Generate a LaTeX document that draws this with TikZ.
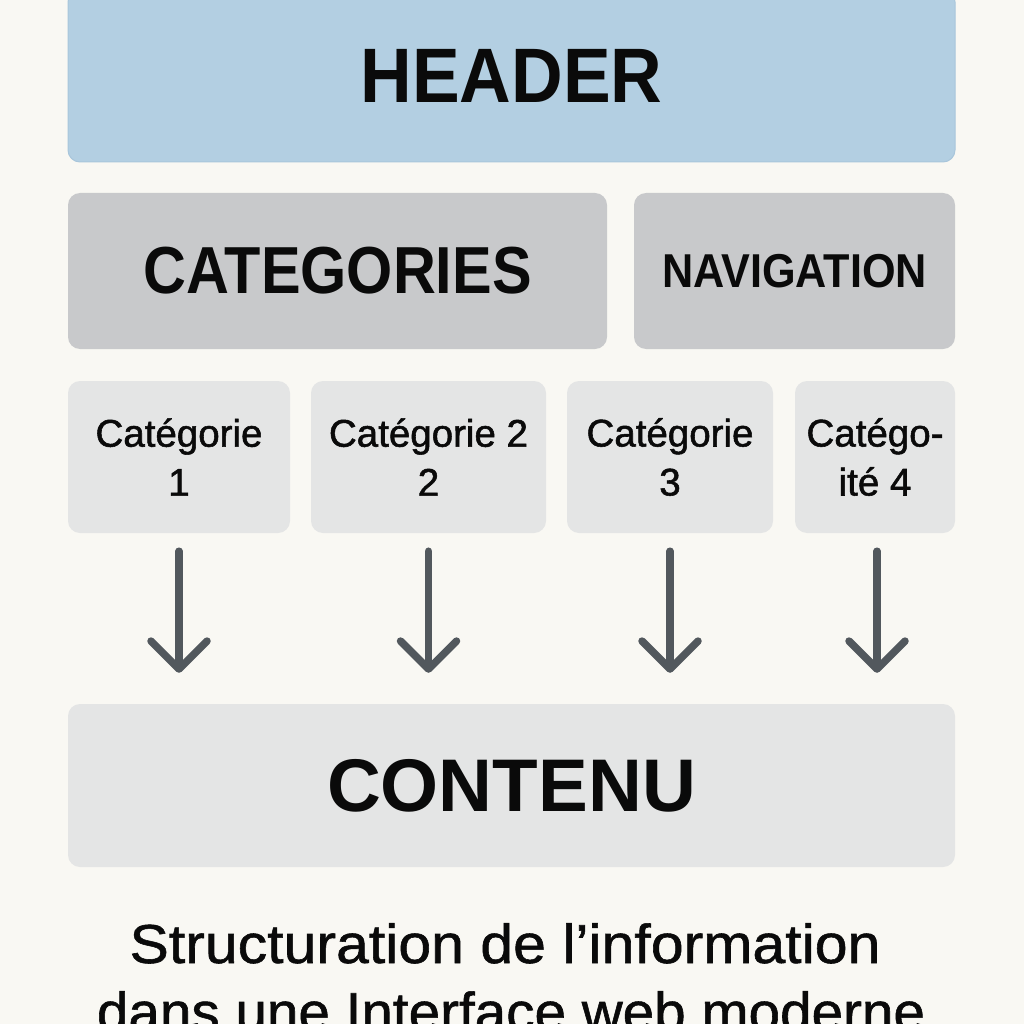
\documentclass[tikz,border=0pt]{standalone}
\usepackage{fontspec}
\usepackage{graphicx}
\setmainfont{Liberation Sans}
\newfontfamily\medfont[FakeBold=1.4]{Liberation Sans}
\newfontfamily\capfont[FakeBold=1.0]{Liberation Sans}
\usetikzlibrary{arrows.meta}
\definecolor{bg}{HTML}{F9F8F3}
\definecolor{headfill}{HTML}{B3CFE2}
\definecolor{headdraw}{HTML}{A9C6DB}
\definecolor{midfill}{HTML}{C8C9CB}
\definecolor{lightfill}{HTML}{E4E5E5}
\definecolor{arrowgray}{HTML}{52585D}
\definecolor{ink}{HTML}{0A0A0A}
\tikzset{
  panel/.style={rectangle, rounded corners=12pt, inner sep=0pt, text=ink, align=center},
  headbox/.style={panel, fill=headfill, draw=headdraw, line width=1pt},
  midbox/.style={panel, fill=midfill},
  catbox/.style={panel, fill=lightfill, font=\medfont\fontsize{38.5}{49}\selectfont},
  contentbox/.style={panel, fill=lightfill},
  flow/.style={draw=arrowgray, line width=7.5pt, line cap=round,
    -{Straight Barb[length=28pt,width=56pt,round]},
    shorten <=18pt},
  captiontext/.style={text=ink, inner sep=0pt, anchor=base, font=\capfont\fontsize{59}{70}\selectfont}
}
\begin{document}
\begin{tikzpicture}[x=1pt,y=-1pt]
\useasboundingbox (0,0) rectangle (1024,1024);
\clip (0,0) rectangle (1024,1024);
\fill[bg] (0,0) rectangle (1024,1024);

\node[headbox, minimum width=887pt, minimum height=172pt] (header) at (511.5,76)
  {\fontsize{71.5}{80}\bfseries\selectfont\scalebox{1}[1.08]{HEADER}};

\node[midbox, minimum width=539pt, minimum height=156pt] (cats) at (337.5,271)
  {\fontsize{59.4}{66}\bfseries\selectfont\scalebox{1}[1.12]{CATEGORIES}};
\node[midbox, minimum width=321pt, minimum height=156pt] (nav) at (794.5,271)
  {\fontsize{43.2}{50}\bfseries\selectfont\scalebox{1}[1.1]{NAVIGATION}};

\node[catbox, minimum width=222pt, minimum height=152pt] (c1) at (179,457) {Catégorie\\1};
\node[catbox, minimum width=235pt, minimum height=152pt] (c2) at (428.5,457) {Catégorie 2\\2};
\node[catbox, minimum width=206pt, minimum height=152pt] (c3) at (670,457) {Catégorie\\3};
\node[catbox, minimum width=160pt, minimum height=152pt] (c4) at (875,457) {Catégo-\\ité 4};

\node[contentbox, minimum width=887pt, minimum height=163pt] (content) at (511.5,785.5)
  {\fontsize{74.6}{80}\bfseries\selectfont CONTENU};

\draw[flow, shorten >=31pt] (c1.south) -- (c1.south |- content.north);
\draw[flow, shorten >=31pt] (c2.south) -- (c2.south |- content.north);
\draw[flow, shorten >=31pt] (c3.south) -- (c3.south |- content.north);
\draw[flow, shorten >=31pt] ([xshift=2pt]c4.south) -- ([xshift=2pt]c4.south |- content.north);

\node[captiontext] (cap1) at (505,963) {\scalebox{1}[0.93]{Structuration de l’information}};
\node[captiontext] (cap2) at (511,1031) {\scalebox{0.96}[0.93]{dans une Interface web moderne}};
\end{tikzpicture}
\end{document}
